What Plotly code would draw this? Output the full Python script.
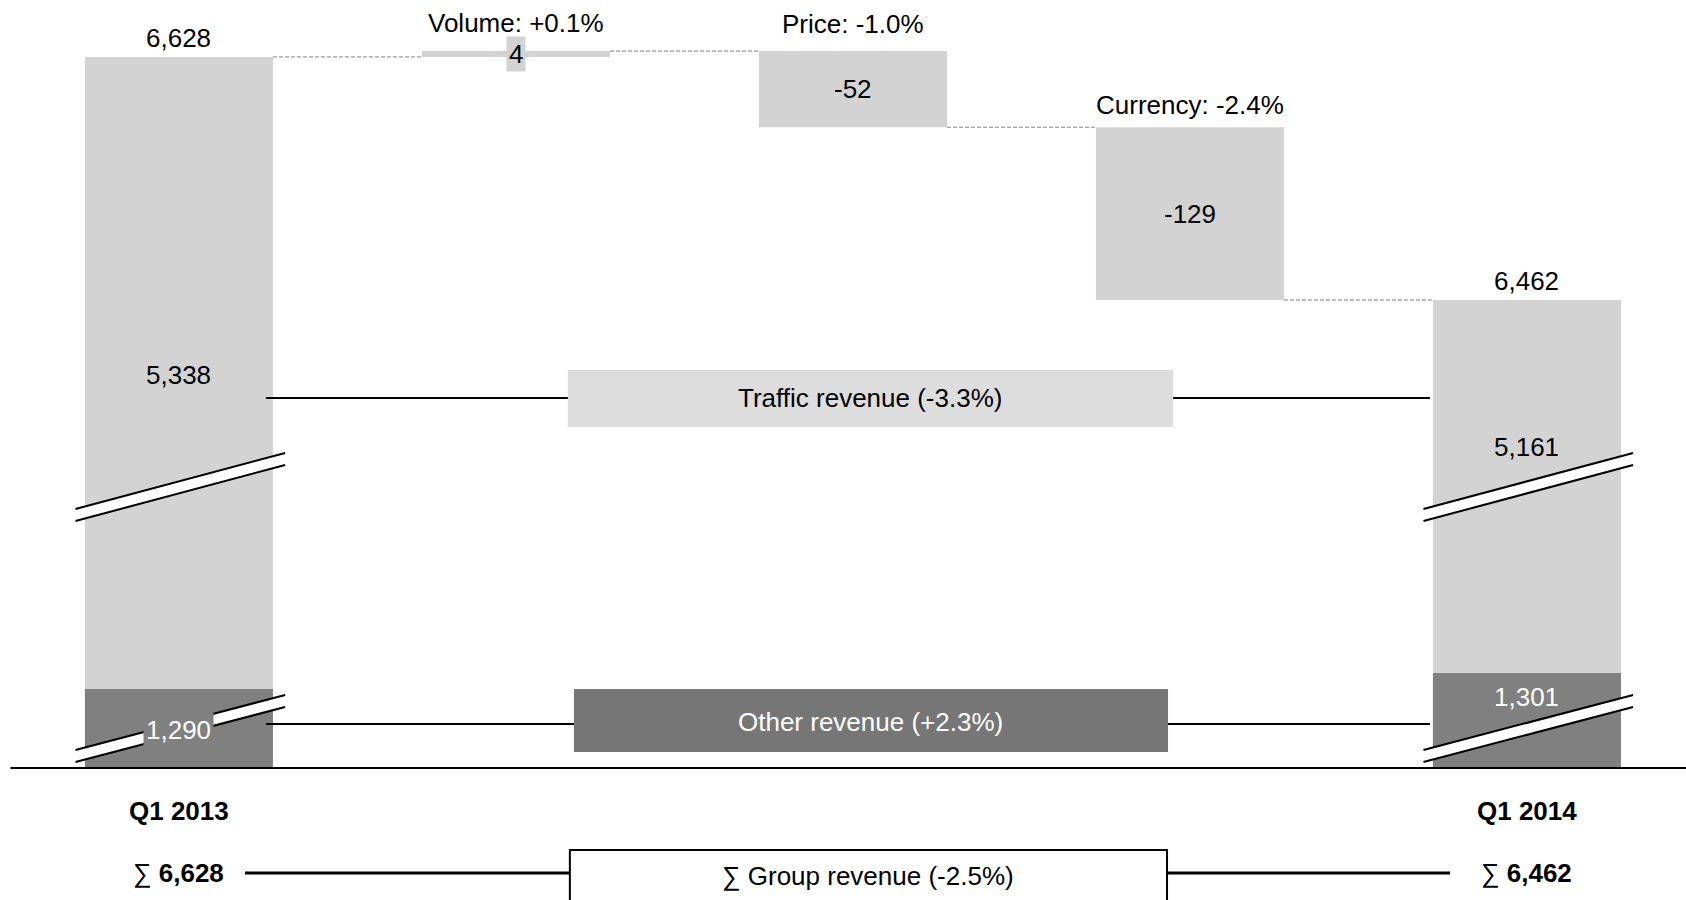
import plotly.graph_objects as go

# ---------------- data ----------------
categories = ["Q1 2013", "Volume", "Price", "Currency", "Q1 2014"]
totals = [6628, 6462]            # group revenue Q1 2013 / Q1 2014
traffic = [5338, 5161]           # traffic revenue
other = [1290, 1301]             # other revenue
deltas = [4, -52, -129]          # volume, price, currency effects
delta_labels = ["Volume: +0.1%", "Price: -1.0%", "Currency: -2.4%"]
traffic_text = "Traffic revenue (-3.3%)"
other_text = "Other revenue (+2.3%)"
group_text = "∑ Group revenue (-2.5%)"

# ---------------- broken-axis transforms ----------------
TOP_CUT = 6142.3     # units hidden by the upper axis break
LOW_CUT = 1236.0     # units hidden by the lower axis break


def top_d(v):
    return v - TOP_CUT


def low_d(v):
    return v - LOW_CUT


FONT = "Arial, 'Liberation Sans', sans-serif"
LIGHT = "#D3D3D3"
DARK = "#808080"
BW = 0.558
total_x = [0, 4]

fig = go.Figure()

# stacked total bars
fig.add_trace(go.Bar(x=total_x, y=[low_d(o) for o in other], base=[0, 0],
                     width=BW, marker=dict(color=DARK, line=dict(width=0)),
                     hoverinfo="skip"))
fig.add_trace(go.Bar(x=total_x,
                     y=[top_d(t) - low_d(o) for t, o in zip(totals, other)],
                     base=[low_d(o) for o in other],
                     width=BW, marker=dict(color=LIGHT, line=dict(width=0)),
                     hoverinfo="skip"))

# waterfall steps
levels = [totals[0]]
for i, d in enumerate(deltas):
    nxt = levels[-1] + d
    if i == len(deltas) - 1:
        nxt = totals[1]  # last step closes to the reported end total
    levels.append(nxt)

d_x = [1, 2, 3]
d_base = [top_d(min(levels[i], levels[i + 1])) for i in range(3)]
d_h = [abs(levels[i + 1] - levels[i]) for i in range(3)]
fig.add_trace(go.Bar(x=d_x, y=d_h, base=d_base, width=BW,
                     marker=dict(color=LIGHT, line=dict(width=0)),
                     hoverinfo="skip"))

shapes = []
annotations = []

# dashed connectors
for i in range(4):
    shapes.append(dict(type="line", xref="x", yref="y",
                       x0=i + BW / 2, x1=i + 1 - BW / 2,
                       y0=top_d(levels[i]), y1=top_d(levels[i]),
                       line=dict(color="#7F7F7F", width=1, dash="4px,2px")))

# traffic / other connector lines with boxes
TR_Y, OT_Y = 252.7, 30.05
for yy in (TR_Y, OT_Y):
    shapes.append(dict(type="line", xref="x", yref="y", x0=0.258, x1=3.712,
                       y0=yy, y1=yy, line=dict(color="black", width=2)))
shapes.append(dict(type="rect", xref="x", yref="y", x0=1.154, x1=2.950,
                   y0=233.0, y1=271.9, fillcolor="#DDDDDD", line=dict(width=0)))
shapes.append(dict(type="rect", xref="x", yref="y", x0=1.172, x1=2.935,
                   y0=10.9, y1=54.0, fillcolor="#767676", line=dict(width=0)))

# axis breaks on the total bars
for cx in total_x:
    for (ul, ur, ll, lr) in [(176.9, 215.2, 168.7, 207.0), (12.3, 49.9, 4.1, 41.7)]:
        xl, xr = cx - 0.307, cx + 0.315
        shapes.append(dict(type="path", xref="x", yref="y",
                           path=f"M {xl},{ul} L {xr},{ur} L {xr},{lr} L {xl},{ll} Z",
                           fillcolor="white", line=dict(width=0)))
        shapes.append(dict(type="line", xref="x", yref="y", x0=xl, x1=xr,
                           y0=ul, y1=ur, line=dict(color="black", width=2)))
        shapes.append(dict(type="line", xref="x", yref="y", x0=xl, x1=xr,
                           y0=ll, y1=lr, line=dict(color="black", width=2)))

# baseline
shapes.append(dict(type="line", xref="x", yref="y", x0=-0.5, x1=4.48,
                   y0=0, y1=0, line=dict(color="black", width=2)))

# bottom group revenue row
SUM_Y = -71.7
shapes.append(dict(type="line", xref="x", yref="y", x0=0.196, x1=1.16,
                   y0=SUM_Y, y1=SUM_Y, line=dict(color="black", width=3)))
shapes.append(dict(type="line", xref="x", yref="y", x0=2.932, x1=3.772,
                   y0=SUM_Y, y1=SUM_Y, line=dict(color="black", width=3)))
shapes.append(dict(type="rect", xref="x", yref="y", x0=1.16, x1=2.932,
                   y0=-130, y1=-56.0, fillcolor="white",
                   line=dict(color="black", width=2)))


def ann(x, y, text, color="black", yanchor="middle", yshift=0, bg=None,
        size=26, pad=1):
    a = dict(x=x, y=y, xref="x", yref="y", text=text, showarrow=False,
             xanchor="center", yanchor=yanchor, yshift=yshift,
             font=dict(family=FONT, size=size, color=color), borderpad=pad)
    if bg:
        a["bgcolor"] = bg
    annotations.append(a)


# total labels
for cx, t in zip(total_x, totals):
    ann(cx, top_d(t), f"{t:,}", yshift=19)
# segment labels
for cx, v, yy in zip(total_x, traffic, [268.4, 219.3]):
    ann(cx, yy, f"{v:,}")
ann(0, 26.0, f"{other[0]:,}", color="white", bg=DARK, pad=2)
ann(4, 48.5, f"{other[1]:,}", color="white")

# delta labels
gaps = [28, 27, 22]
for i in range(3):
    top = top_d(max(levels[i], levels[i + 1]))
    ann(d_x[i], top, delta_labels[i], yshift=gaps[i])
    mid = d_base[i] + d_h[i] / 2
    if i == 0:
        ann(d_x[i], mid, f"{deltas[i]:+d}".lstrip("+"), bg=LIGHT, pad=2)
    else:
        ann(d_x[i], mid, f"{deltas[i]:,}")

# box texts
ann(2.052, TR_Y, traffic_text)
ann(2.052, 31.4, other_text, color="white")
ann(2.046, SUM_Y - 2.0, group_text)

# bottom category labels and sums
for cx, t, c in zip(total_x, totals, [categories[0], categories[-1]]):
    ann(cx, -29.4, f"<b>{c}</b>")
    ann(cx, SUM_Y, f"∑ <b>{t:,}</b>")

fig.update_layout(
    width=1686, height=900,
    margin=dict(l=0, r=0, t=0, b=0),
    paper_bgcolor="white", plot_bgcolor="white",
    showlegend=False, barmode="overlay",
    xaxis=dict(range=[-0.531, 4.472], visible=False, fixedrange=True),
    yaxis=dict(range=[-90.16, 524.59], visible=False, fixedrange=True),
    shapes=shapes, annotations=annotations,
    font=dict(family=FONT),
)

fig.write_html("out.html")
